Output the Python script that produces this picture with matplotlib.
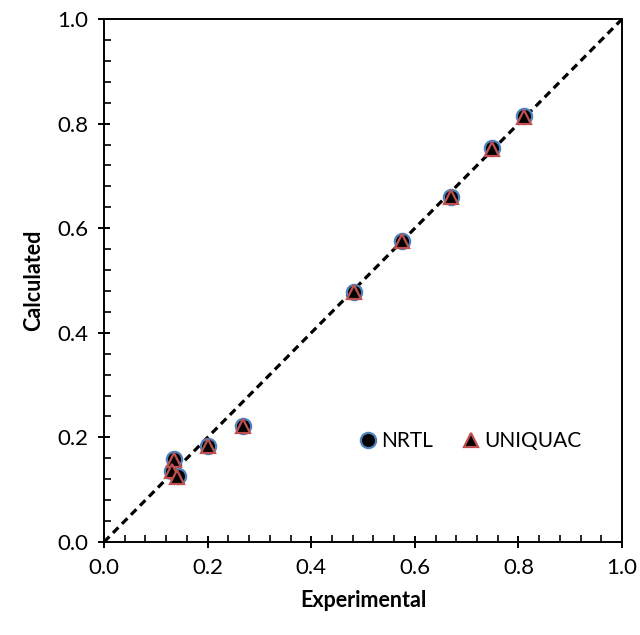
import matplotlib
matplotlib.use("Agg")
import matplotlib.pyplot as plt
from matplotlib.ticker import MultipleLocator

plt.rcParams['font.family'] = ['Lato', 'DejaVu Sans']

# experimental vs calculated values
exp_nrtl = [0.810, 0.748, 0.669, 0.575, 0.483, 0.268, 0.201, 0.135, 0.131, 0.142]
calc_nrtl = [0.814, 0.753, 0.659, 0.576, 0.478, 0.221, 0.183, 0.158, 0.136, 0.126]
exp_uniquac = [0.810, 0.748, 0.669, 0.575, 0.483, 0.268, 0.201, 0.135, 0.131, 0.140]
calc_uniquac = [0.812, 0.751, 0.659, 0.575, 0.478, 0.222, 0.183, 0.157, 0.135, 0.124]
parity = [0.0, 1.0]

fig = plt.figure(figsize=(6.4, 6.35), dpi=100)
ax = fig.add_axes([0.1625, 0.1465, 0.8095, 0.8235])

ax.plot(parity, parity, color='black', linestyle=(0, (2.4, 1.6)), linewidth=2.3, zorder=1)
ax.plot(exp_nrtl, calc_nrtl, linestyle='none', marker='o', markersize=11,
        markerfacecolor='black', markeredgecolor='#4F81BD', markeredgewidth=1.6,
        label='NRTL', zorder=2)
ax.plot(exp_uniquac, calc_uniquac, linestyle='none', marker='^', markersize=10.5,
        markerfacecolor='black', markeredgecolor='#C0504D', markeredgewidth=1.6,
        label='UNIQUAC', zorder=3)

ax.set_xlim(0, 1)
ax.set_ylim(0, 1)
ax.xaxis.set_major_locator(MultipleLocator(0.2))
ax.yaxis.set_major_locator(MultipleLocator(0.2))
ax.xaxis.set_minor_locator(MultipleLocator(0.04))
ax.yaxis.set_minor_locator(MultipleLocator(0.04))
ax.xaxis.set_major_formatter(plt.FormatStrFormatter('%.1f'))
ax.yaxis.set_major_formatter(plt.FormatStrFormatter('%.1f'))
ax.tick_params(which='major', direction='inout', length=9, width=1.4, labelsize=16, pad=7)
ax.tick_params(which='minor', direction='in', length=5, width=1.2)
for s in ax.spines.values():
    s.set_linewidth(1.4)

ax.set_xlabel('Experimental', fontsize=15.5, fontweight='bold', labelpad=9)
ax.set_ylabel('Calculated', fontsize=15.5, fontweight='bold', labelpad=9)

ax.legend(loc='center', bbox_to_anchor=(0.705, 0.193), ncol=2, frameon=False,
          fontsize=15, handletextpad=0.15, columnspacing=1.3, handlelength=1.0)

fig.savefig('out.png', dpi=100)
